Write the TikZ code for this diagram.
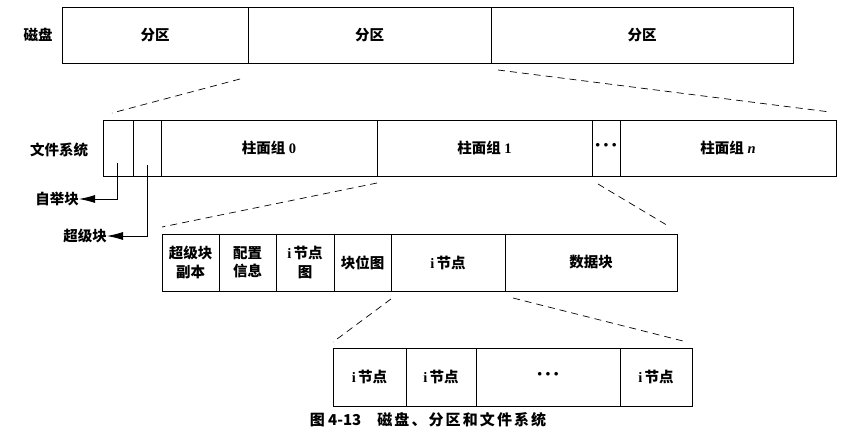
\documentclass[tikz,border=0pt]{standalone}
\usepackage{fontspec}
\setmainfont{Liberation Serif}
\newfontfamily\cjk{Noto Sans CJK SC}
\usetikzlibrary{arrows.meta}
\newcommand\zh[1]{{\cjk\bfseries #1}}
\newcommand\tdots{{\fontsize{22}{22}\selectfont\textbf{·\hspace{1pt}·\hspace{1pt}·}}}
\tikzset{
  cell/.style={draw, line width=0.8pt, inner sep=0pt, outer sep=0pt, anchor=north west,
    align=center, font=\fontsize{14.5}{18.5}\selectfont},
  lbl/.style={inner sep=0pt, font=\fontsize{14.5}{17}\selectfont},
  zoomline/.style={dashed, dash pattern=on 7pt off 5pt, line width=0.7pt},
  ptr/.style={line width=0.8pt, -{Latex[length=16pt,width=8pt]}}
}
\newcommand\cellat[6]{\node[cell, minimum width={#3-#2}, minimum height={#5-#4}] (#1) at (#2,#4) {#6};}
\begin{document}
\begin{tikzpicture}[x=1pt,y=-1pt]
\useasboundingbox (0,0) rectangle (858,441);
% row 1: disk
\node[lbl, anchor=center] (disk) at (38,35) {\zh{磁盘}};
\cellat{p1}{62}{248}{7}{63}{\zh{分区}}
\cellat{p2}{248}{491}{7}{63}{\zh{分区}}
\cellat{p3}{491}{793}{7}{63}{\zh{分区}}
% row 2: file system
\node[lbl, anchor=center] (fs) at (59,150) {\zh{文件系统}};
\cellat{boot}{103}{133}{120}{176}{}
\cellat{super}{133}{161}{120}{176}{}
\cellat{cg0}{161}{377}{120}{176}{\zh{柱面组}\ \textbf{0}}
\cellat{cg1}{377}{592}{120}{176}{\zh{柱面组}\ \textbf{1}}
\cellat{cgd}{592}{620}{120}{176}{\tdots}
\cellat{cgn}{620}{836}{120}{176}{\zh{柱面组}\ \textbf{\textit{n}}}
% row 3: cylinder group
\cellat{sbc}{162}{219}{234}{291}{\zh{超级块}\\\zh{副本}}
\cellat{cfg}{219}{276}{234}{291}{\zh{配置}\\\zh{信息}}
\cellat{imap}{276}{334}{234}{291}{\textbf{i}\,\zh{节点}\\\zh{图}}
\cellat{bmap}{334}{391}{234}{291}{\zh{块位图}}
\cellat{inodes}{391}{505}{234}{291}{\textbf{i}\,\zh{节点}}
\cellat{data}{505}{677}{234}{291}{\zh{数据块}}
% row 4: inodes
\cellat{in1}{333}{406}{348}{406}{\textbf{i}\,\zh{节点}}
\cellat{in2}{406}{476}{348}{406}{\textbf{i}\,\zh{节点}}
\cellat{ind}{476}{620}{348}{406}{\tdots}
\cellat{inn}{620}{692}{348}{406}{\textbf{i}\,\zh{节点}}
% zoom lines
\coordinate (a1) at (240,79);  \coordinate (a2) at (112,113);
\coordinate (b1) at (498,70);  \coordinate (b2) at (830,112);
\coordinate (c1) at (377,183); \coordinate (c2) at (162,227);
\coordinate (d1) at (598,184); \coordinate (d2) at (670,227);
\coordinate (e1) at (391,299); \coordinate (e2) at (333,342);
\coordinate (f1) at (513,298); \coordinate (f2) at (683,341);
\draw[zoomline] (a1) -- (a2);
\draw[zoomline] (b1) -- (b2);
\draw[zoomline] (c1) -- (c2);
\draw[zoomline] (d1) -- (d2);
\draw[zoomline] (e1) -- (e2);
\draw[zoomline] (f1) -- (f2);
% pointers
\node[lbl, anchor=east] (bootl) at (79,199) {\zh{自举块}};
\node[lbl, anchor=east] (superl) at (107,236) {\zh{超级块}};
\coordinate (bs) at (117,163);
\coordinate (ss) at (147,165);
\draw[ptr] (bs) |- (bootl.east);
\draw[ptr] (ss) |- (superl.east);
% caption
\node[inner sep=0pt, font=\fontsize{15}{17}\selectfont] (cap) at (428,420)
  {{\cjk\bfseries 图 4-13}\hspace{16pt}{\cjk\bfseries\addfontfeature{LetterSpace=14}磁盘、分区和文件系统}};
\end{tikzpicture}
\end{document}
